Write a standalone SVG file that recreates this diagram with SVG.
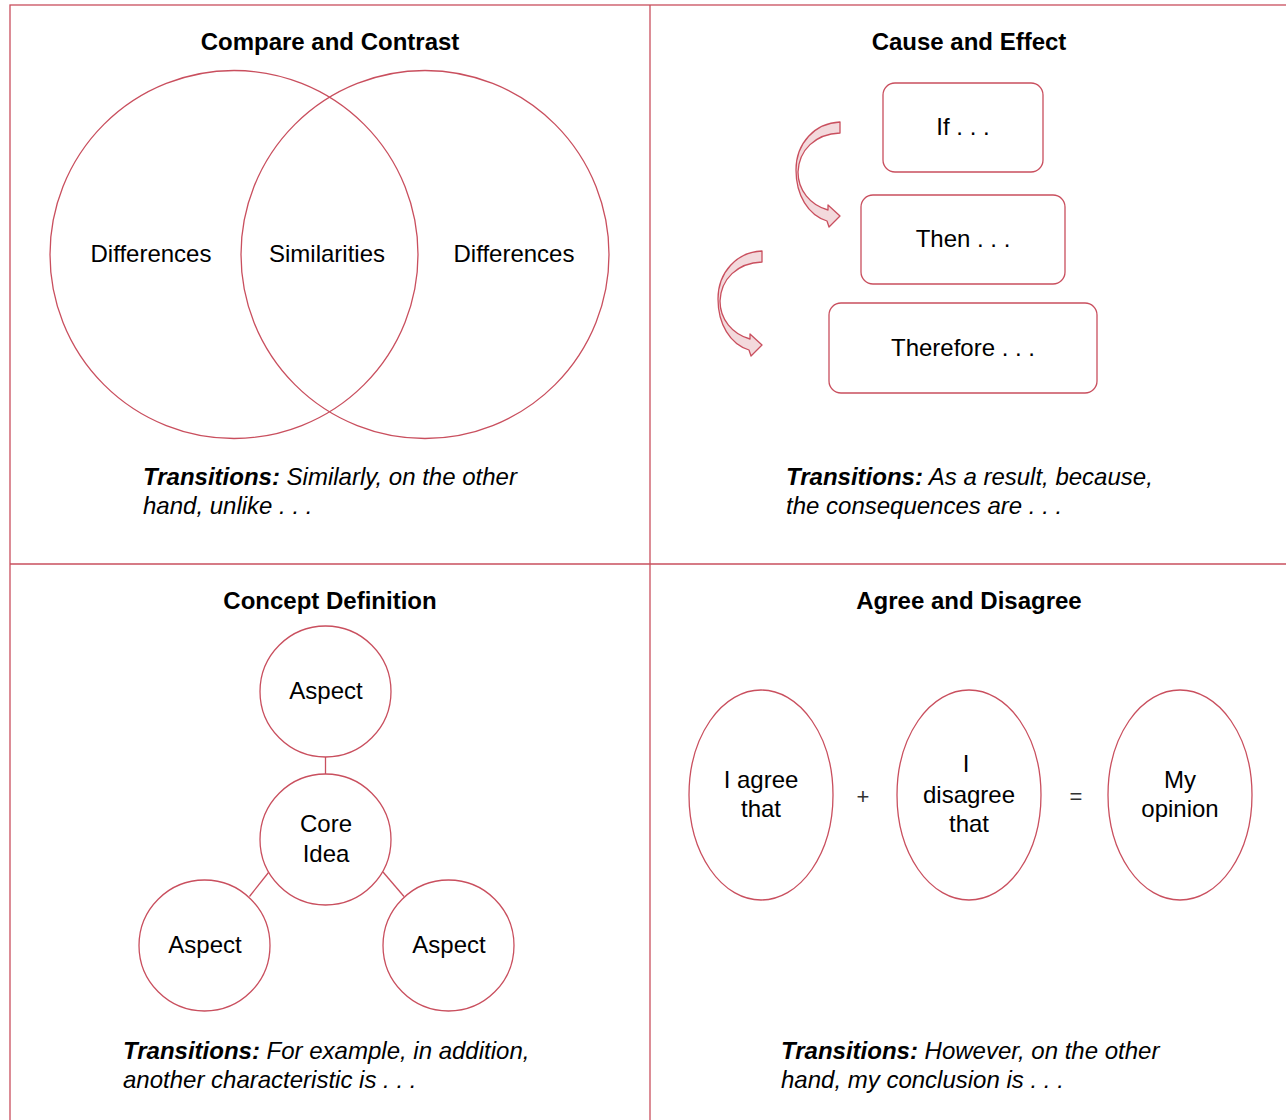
<svg xmlns="http://www.w3.org/2000/svg" width="1286" height="1120" viewBox="0 0 1286 1120">
<style>
.ln{fill:none;stroke:#c94f5e;stroke-width:1.3}
.nd{fill:#fff;stroke:#c94f5e;stroke-width:1.3}
.ven{fill:none;stroke:#c94f5e;stroke-width:1.3}
.arr{fill:#f3d9dc;stroke:#c94f5e;stroke-width:1.3;stroke-linejoin:round}
text{font-family:"Liberation Sans",Arial,Helvetica,sans-serif;font-size:24px;fill:#000}
.t{font-weight:bold;text-anchor:middle}
.c{text-anchor:middle}
.i{font-style:italic}
.b{font-weight:bold}
.op{fill:#333;text-anchor:middle;font-size:22px}
</style>
<rect id="frame" x="10" y="5" width="1290" height="1130" class="ln"/>
<g id="grid">
<line x1="10" y1="564" x2="1300" y2="564" class="ln"/>
<line x1="650" y1="5" x2="650" y2="1130" class="ln"/>
</g>

<!-- Compare and Contrast -->
<text class="t" x="330" y="50">Compare and Contrast</text>
<g id="venn-left"><circle cx="234" cy="254.5" r="184" class="ven"/><text class="c" x="151" y="262">Differences</text></g>
<g id="venn-right"><circle cx="425" cy="254.5" r="184" class="ven"/><text class="c" x="514" y="262">Differences</text></g>
<g id="venn-mid"><text class="c" x="327" y="262">Similarities</text></g>
<text x="143" y="485" class="i"><tspan class="b">Transitions:</tspan> Similarly, on the other</text>
<text x="143" y="514" class="i">hand, unlike . . .</text>

<!-- Cause and Effect -->
<text class="t" x="969" y="50">Cause and Effect</text>
<g id="if"><rect x="883" y="83" width="160" height="89" rx="12" class="nd"/><text class="c" x="963" y="135">If . . .</text></g>
<g id="then"><rect x="861" y="195" width="204" height="89" rx="12" class="nd"/><text class="c" x="963" y="247">Then . . .</text></g>
<g id="therefore"><rect x="829" y="303" width="268" height="90" rx="12" class="nd"/><text class="c" x="963" y="356">Therefore . . .</text></g>
<g id="connectors">
<path id="curve1" class="arr" d="M840,122 L840,133 C815,134 799,150 798,172 C798,190 810,205 828,210 L828,205 L840,216 L829,227 L827,221 C808,215 796,195 796,170 C796,143 815,123 840,122 Z"/>
<path id="curve2" class="arr" transform="translate(-78,129)" d="M840,122 L840,133 C815,134 799,150 798,172 C798,190 810,205 828,210 L828,205 L840,216 L829,227 L827,221 C808,215 796,195 796,170 C796,143 815,123 840,122 Z"/>
<line x1="325.5" y1="757" x2="325.5" y2="774" class="ln"/>
<line x1="268.5" y1="872.5" x2="249.5" y2="896.5" class="ln"/>
<line x1="383" y1="872" x2="404" y2="896.5" class="ln"/>
</g>
<text x="786" y="485" class="i"><tspan class="b">Transitions:</tspan> As a result, because,</text>
<text x="786" y="514" class="i">the consequences are . . .</text>

<!-- Concept Definition -->
<text class="t" x="330" y="609">Concept Definition</text>
<g id="aspect-top"><circle cx="325.5" cy="691.5" r="65.5" class="nd"/><text class="c" x="326" y="699">Aspect</text></g>
<g id="core"><circle cx="325.5" cy="839.5" r="65.5" class="nd"/><text class="c" x="326" y="832">Core</text><text class="c" x="326" y="862">Idea</text></g>
<g id="aspect-left"><circle cx="204.5" cy="945.5" r="65.5" class="nd"/><text class="c" x="205" y="953">Aspect</text></g>
<g id="aspect-right"><circle cx="448.5" cy="945.5" r="65.5" class="nd"/><text class="c" x="449" y="953">Aspect</text></g>
<text x="123" y="1059" class="i"><tspan class="b">Transitions:</tspan> For example, in addition,</text>
<text x="123" y="1088" class="i">another characteristic is . . .</text>

<!-- Agree and Disagree -->
<text class="t" x="969" y="609">Agree and Disagree</text>
<g id="agree"><ellipse cx="761" cy="795" rx="72" ry="105" class="nd"/><text class="c" x="761" y="788">I agree</text><text class="c" x="761" y="817">that</text></g>
<g id="plus"><text class="op" x="863" y="804">+</text></g>
<g id="disagree"><ellipse cx="969" cy="795" rx="72" ry="105" class="nd"/><text class="c" x="966" y="772">I</text><text class="c" x="969" y="803">disagree</text><text class="c" x="969" y="832">that</text></g>
<g id="equals"><text class="op" x="1076" y="804">=</text></g>
<g id="opinion"><ellipse cx="1180" cy="795" rx="72" ry="105" class="nd"/><text class="c" x="1180" y="788">My</text><text class="c" x="1180" y="817">opinion</text></g>
<text x="781" y="1059" class="i"><tspan class="b">Transitions:</tspan> However, on the other</text>
<text x="781" y="1088" class="i">hand, my conclusion is . . .</text>
</svg>
